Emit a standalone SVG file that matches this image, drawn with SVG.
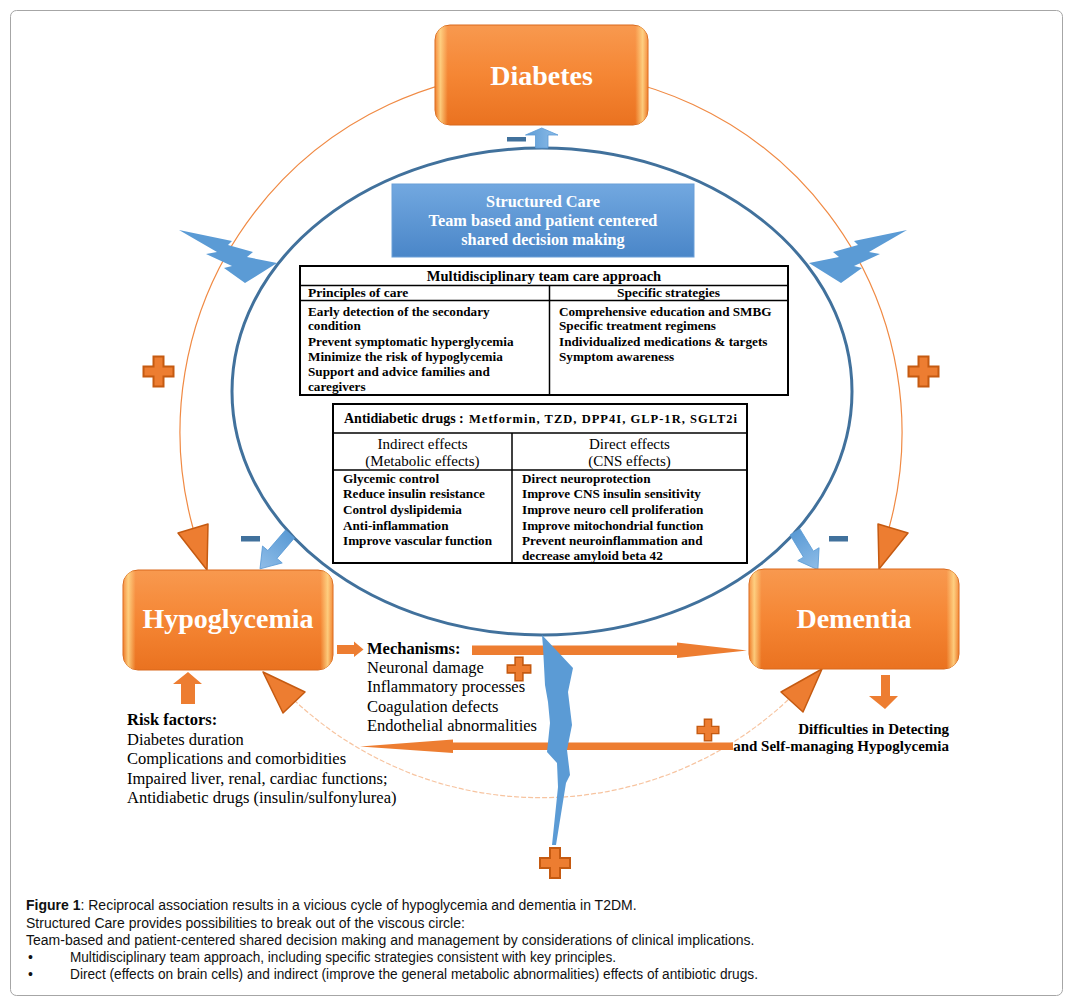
<svg xmlns="http://www.w3.org/2000/svg" width="1071" height="1005" viewBox="0 0 1071 1005">
<style>
.serif{font-family:"Liberation Serif","Times New Roman",serif;}
.sans{font-family:"Liberation Sans",Arial,sans-serif;}
.boxlabel{font-family:"Liberation Serif",serif;font-size:28px;font-weight:bold;fill:#fff;text-anchor:middle;}
.sc{font-family:"Liberation Serif",serif;font-size:16.3px;font-weight:bold;fill:#fff;text-anchor:middle;}
.tb{font-family:"Liberation Serif",serif;font-size:13.2px;font-weight:bold;fill:#000;}
.th{font-family:"Liberation Serif",serif;font-size:15px;fill:#000;text-anchor:middle;}
.body{font-family:"Liberation Serif",serif;font-size:16.5px;fill:#000;}
.bodyb{font-family:"Liberation Serif",serif;font-size:16.5px;font-weight:bold;fill:#000;}
.cap{font-family:"Liberation Sans",Arial,sans-serif;font-size:14px;fill:#111;}
.orange{fill:#ed7d31;}
.tri{fill:#ed7d31;stroke:#c55a11;stroke-width:1.5;stroke-linejoin:round;}
.plus{fill:#ed7d31;stroke:#c55a11;stroke-width:2;}
.bolt{fill:#5b9bd5;}
.minus{fill:#41719c;}
.barrow{fill:url(#bg);stroke:#5b9bd5;stroke-width:0.8;}
.cell{fill:none;stroke:#000;}
</style>
<defs>
<linearGradient id="og" x1="0" y1="0" x2="0" y2="1">
<stop offset="0" stop-color="#f8994f"/><stop offset="0.5" stop-color="#f58634"/><stop offset="1" stop-color="#ea7220"/>
</linearGradient>
<linearGradient id="oh" x1="0" y1="0" x2="1" y2="0">
<stop offset="0" stop-color="#ffd98a" stop-opacity="0"/>
<stop offset="0.025" stop-color="#ffd98a" stop-opacity="0.85"/>
<stop offset="0.06" stop-color="#ffd98a" stop-opacity="0"/>
<stop offset="0.94" stop-color="#ffd98a" stop-opacity="0"/>
<stop offset="0.975" stop-color="#ffd98a" stop-opacity="0.85"/>
<stop offset="1" stop-color="#ffd98a" stop-opacity="0"/>
</linearGradient>
<linearGradient id="blueg" x1="0" y1="0" x2="0" y2="1">
<stop offset="0" stop-color="#72a8e0"/><stop offset="1" stop-color="#4a86c8"/>
</linearGradient>
<linearGradient id="bg" x1="0" y1="0" x2="1" y2="0">
<stop offset="0" stop-color="#5b9bd5"/><stop offset="1" stop-color="#8fbde8"/>
</linearGradient>
<path id="plus" d="M-5,-15 H5 V-5 H15 V5 H5 V15 H-5 V5 H-15 V-5 H-5 Z"/>
<path id="barr" d="M0,-6 L27,-6 L27,-13 L46,0 L27,13 L27,6 L0,6 Z"/>
</defs>

<rect x="10.5" y="10.5" width="1052" height="985" rx="6" fill="#fff" stroke="#a6a6a6" stroke-width="1"/>

<g id="connectors">
  <path d="M193,528 A361,361 0 1 1 889,528" fill="none" stroke="#f08a44" stroke-width="1.2"/>
  <path d="M294,700 A361,361 0 0 0 790,698" fill="none" stroke="#f7c4a0" stroke-width="1.2" stroke-dasharray="5 2"/>
  <polygon class="tri" points="178,533 208,524 207,570"/>
  <polygon class="tri" points="878,524 908,533 879,569"/>
  <polygon class="tri" points="263,672 305,692 283,713"/>
  <polygon class="tri" points="822,669 781,692 803,712"/>
  <ellipse cx="542" cy="391.5" rx="310" ry="243.5" fill="none" stroke="#41719c" stroke-width="3"/>
  <polygon class="bolt" points="179,230 232,241 228,245 253,252 247,257 277,263 245,283 224,268 232,266 206,254 217,252"/>
  <polygon class="bolt" points="907,230 854,241 858,245 833,252 839,257 809,263 841,283 862,268 854,266 880,254 869,252"/>
  <path class="barrow" d="M535.5,148 L535.5,135 L525.5,135 L541.7,128 L558,135 L548,135 L548,148 Z"/>
  <use href="#barr" class="barrow" transform="translate(290,534) rotate(130.7)"/>
  <use href="#barr" class="barrow" transform="translate(795,532) rotate(58.8) scale(0.96)"/>
  <path class="orange" d="M337,645 L354,645 L354,641.5 L363.5,649.5 L354,657 L354,654 L337,654 Z"/>
  <path class="orange" d="M472,645.5 L677,645.5 L677,642.5 L747,650.5 L677,658 L677,655 L472,655 Z"/>
  <path class="orange" d="M733,742.5 L453,742.5 L453,739.5 L360,746.5 L453,753 L453,750 L733,750 Z"/>
  <path class="orange" d="M181,704 L181,684 L173,684 L188,672 L202,684 L195,684 L195,704 Z"/>
  <path class="orange" d="M881,675 L890,675 L890,696 L898,696 L885,709 L869,696 L881,696 Z"/>
  <polygon class="bolt" points="542,635 573,668 568,692 572,725 567,750 570,775 566,783 556,845 552,845 558,787 557,763 547,752 550,723 548,702 545,685 543,647"/>
</g>

<g id="signs">
  <use href="#plus" class="plus" transform="translate(158.5,371.5)"/>
  <use href="#plus" class="plus" transform="translate(923.5,371.5)"/>
  <use href="#plus" class="plus" transform="translate(519,669) scale(0.78)"/>
  <use href="#plus" class="plus" transform="translate(708,730) scale(0.72)"/>
  <use href="#plus" class="plus" transform="translate(555,863)"/>
  <rect class="minus" x="507" y="137" width="19" height="4.5"/>
  <rect class="minus" x="241" y="536" width="19" height="5.5"/>
  <rect class="minus" x="829" y="536" width="19" height="5.5"/>
</g>

<g id="diabetes">
  <rect x="435" y="25" width="213" height="100" rx="15" fill="url(#og)" stroke="#d9691c" stroke-width="1"/>
  <rect x="435" y="25" width="213" height="100" rx="15" fill="url(#oh)"/>
  <text class="boxlabel" x="541.5" y="85">Diabetes</text>
</g>

<g id="hypoglycemia">
  <rect x="123" y="570" width="210" height="100" rx="15" fill="url(#og)" stroke="#d9691c" stroke-width="1"/>
  <rect x="123" y="570" width="210" height="100" rx="15" fill="url(#oh)"/>
  <text class="boxlabel" x="228" y="628">Hypoglycemia</text>
</g>

<g id="dementia">
  <rect x="749" y="569" width="210" height="100" rx="15" fill="url(#og)" stroke="#d9691c" stroke-width="1"/>
  <rect x="749" y="569" width="210" height="100" rx="15" fill="url(#oh)"/>
  <text class="boxlabel" x="854" y="628">Dementia</text>
</g>

<g id="structured-care">
  <rect x="392" y="184" width="302" height="73" fill="url(#blueg)" stroke="#6a9fd8" stroke-width="1"/>
  <text class="sc" x="543" y="207">Structured Care</text>
  <text class="sc" x="543" y="226">Team based and patient centered</text>
  <text class="sc" x="543" y="245">shared decision making</text>
</g>

<g id="team-table">
  <rect x="300" y="266" width="488" height="129" fill="#fff" stroke="#000" stroke-width="2"/>
  <line class="cell" x1="300" y1="285.5" x2="788" y2="285.5" stroke-width="1.5"/>
  <line class="cell" x1="300" y1="300.5" x2="788" y2="300.5" stroke-width="1.5"/>
  <line class="cell" x1="549.5" y1="285.5" x2="549.5" y2="395" stroke-width="1.5"/>
  <text class="tb" x="544" y="281" text-anchor="middle" style="font-size:14.5px">Multidisciplinary team care approach</text>
  <text class="tb" x="308" y="297" style="font-size:13.5px">Principles of care</text>
  <text class="tb" x="668.5" y="297" text-anchor="middle" style="font-size:13.5px">Specific strategies</text>
  <text class="tb" x="308" y="316">Early detection of the secondary</text>
  <text class="tb" x="308" y="330">condition</text>
  <text class="tb" x="308" y="346">Prevent symptomatic hyperglycemia</text>
  <text class="tb" x="308" y="361">Minimize the risk of hypoglycemia</text>
  <text class="tb" x="308" y="376">Support and advice families and</text>
  <text class="tb" x="308" y="391">caregivers</text>
  <text class="tb" x="559" y="316">Comprehensive education and SMBG</text>
  <text class="tb" x="559" y="330">Specific treatment regimens</text>
  <text class="tb" x="559" y="346">Individualized medications &amp; targets</text>
  <text class="tb" x="559" y="361">Symptom awareness</text>
</g>

<g id="drugs-table">
  <rect x="333" y="404" width="414" height="159" fill="#fff" stroke="#000" stroke-width="2"/>
  <line class="cell" x1="333" y1="433" x2="747" y2="433" stroke-width="1.5"/>
  <line class="cell" x1="333" y1="470" x2="747" y2="470" stroke-width="1.5"/>
  <line class="cell" x1="512" y1="433" x2="512" y2="563" stroke-width="1.5"/>
  <text class="tb" x="344" y="423" style="font-size:14px">Antidiabetic drugs :</text>
  <text class="tb" x="469" y="423" style="font-size:12.5px" textLength="268" lengthAdjust="spacing">Metformin, TZD, DPP4I, GLP-1R, SGLT2i</text>
  <text class="th" x="422.5" y="449">Indirect effects</text>
  <text class="th" x="422.5" y="466">(Metabolic effects)</text>
  <text class="th" x="629.5" y="449">Direct effects</text>
  <text class="th" x="629.5" y="466">(CNS effects)</text>
  <text class="tb" x="343" y="483">Glycemic control</text>
  <text class="tb" x="343" y="498">Reduce insulin resistance</text>
  <text class="tb" x="343" y="514">Control dyslipidemia</text>
  <text class="tb" x="343" y="530">Anti-inflammation</text>
  <text class="tb" x="343" y="545">Improve vascular function</text>
  <text class="tb" x="522" y="483">Direct neuroprotection</text>
  <text class="tb" x="522" y="498">Improve CNS insulin sensitivity</text>
  <text class="tb" x="522" y="514">Improve neuro cell proliferation</text>
  <text class="tb" x="522" y="530">Improve mitochondrial function</text>
  <text class="tb" x="522" y="545">Prevent neuroinflammation and</text>
  <text class="tb" x="522" y="560">decrease amyloid beta 42</text>
</g>

<g id="mechanisms">
  <text class="bodyb" x="367" y="654">Mechanisms:</text>
  <text class="body" x="367" y="673">Neuronal damage</text>
  <text class="body" x="367" y="692">Inflammatory processes</text>
  <text class="body" x="367" y="712">Coagulation defects</text>
  <text class="body" x="367" y="731">Endothelial abnormalities</text>
</g>

<g id="risk-factors">
  <text class="bodyb" x="127" y="725">Risk factors:</text>
  <text class="body" x="127" y="745">Diabetes duration</text>
  <text class="body" x="127" y="764">Complications and comorbidities</text>
  <text class="body" x="127" y="784">Impaired liver, renal, cardiac functions;</text>
  <text class="body" x="127" y="803">Antidiabetic drugs (insulin/sulfonylurea)</text>
</g>

<g id="difficulties">
  <text class="tb" x="949" y="734" text-anchor="end" style="font-size:15px">Difficulties in Detecting</text>
  <text class="tb" x="949" y="751" text-anchor="end" style="font-size:15px">and Self-managing Hypoglycemia</text>
</g>

<g id="caption">
  <text class="cap" x="26" y="910"><tspan font-weight="bold">Figure 1</tspan>: Reciprocal association results in a vicious cycle of hypoglycemia and dementia in T2DM.</text>
  <text class="cap" x="26" y="928">Structured Care provides possibilities to break out of the viscous circle:</text>
  <text class="cap" x="26" y="945">Team-based and patient-centered shared decision making and management by considerations of clinical implications.</text>
  <text class="cap" x="28" y="962">•</text>
  <text class="cap" x="70" y="962" textLength="546" lengthAdjust="spacingAndGlyphs">Multidisciplinary team approach, including specific strategies consistent with key principles.</text>
  <text class="cap" x="28" y="979">•</text>
  <text class="cap" x="70" y="979" textLength="688" lengthAdjust="spacingAndGlyphs">Direct (effects on brain cells) and indirect (improve the general metabolic abnormalities) effects of antibiotic drugs.</text>
</g>
</svg>
